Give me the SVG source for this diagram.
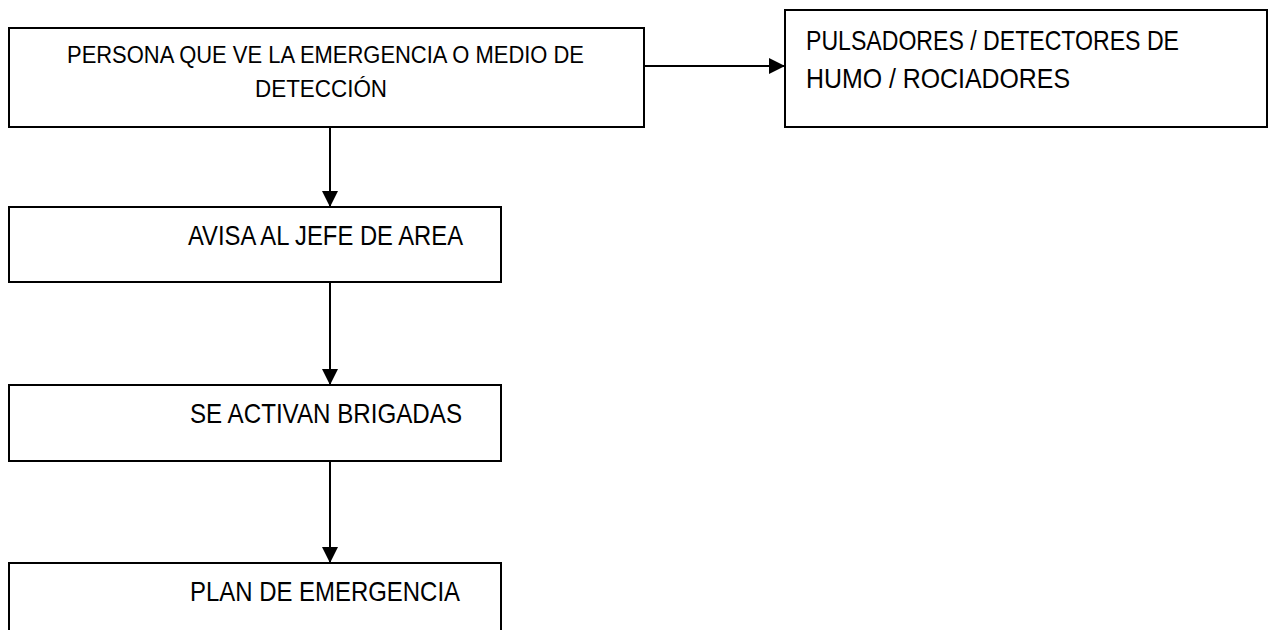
<svg xmlns="http://www.w3.org/2000/svg" width="1274" height="630" viewBox="0 0 1274 630">
<style>
.box{fill:#fff;stroke:#000;stroke-width:2}
.t{font-family:"Liberation Sans Narrow","Liberation Sans",Arial,sans-serif;fill:#000}
.s23{font-size:23px}
.s28{font-size:28px}
.c{stroke:#000;stroke-width:2;fill:none}
</style>
<defs>
<marker id="ah" markerWidth="16" markerHeight="16" refX="16" refY="8" orient="auto" markerUnits="userSpaceOnUse">
<path d="M0,0 L16,8 L0,16 Z" fill="#000"/>
</marker>
</defs>
<rect width="1274" height="630" fill="#fff"/>
<g id="n1">
<rect class="box" x="9" y="28" width="635" height="99"/>
<text class="t s23" x="67" y="63" textLength="517" lengthAdjust="spacingAndGlyphs">PERSONA QUE VE LA EMERGENCIA O MEDIO DE</text>
<text class="t s23" x="255" y="97" textLength="132" lengthAdjust="spacingAndGlyphs">DETECCIÓN</text>
</g>
<g id="n2">
<rect class="box" x="785" y="10" width="482" height="117"/>
<text class="t s28" x="806" y="50" textLength="373" lengthAdjust="spacingAndGlyphs">PULSADORES / DETECTORES DE</text>
<text class="t s28" x="806" y="88" textLength="264" lengthAdjust="spacingAndGlyphs">HUMO / ROCIADORES</text>
</g>
<g id="n3">
<rect class="box" x="9" y="207" width="492" height="75"/>
<text class="t s28" x="188" y="245" textLength="275" lengthAdjust="spacingAndGlyphs">AVISA AL JEFE DE AREA</text>
</g>
<g id="n4">
<rect class="box" x="9" y="385" width="492" height="76"/>
<text class="t s28" x="190" y="423" textLength="272" lengthAdjust="spacingAndGlyphs">SE ACTIVAN BRIGADAS</text>
</g>
<g id="n5">
<rect class="box" x="9" y="563" width="492" height="80"/>
<text class="t s28" x="190" y="601" textLength="270" lengthAdjust="spacingAndGlyphs">PLAN DE EMERGENCIA</text>
</g>
<g id="connectors">
<line class="c" x1="644" y1="66" x2="785" y2="66" marker-end="url(#ah)"/>
<line class="c" x1="330" y1="127" x2="330" y2="207" marker-end="url(#ah)"/>
<line class="c" x1="330" y1="282" x2="330" y2="385" marker-end="url(#ah)"/>
<line class="c" x1="330" y1="461" x2="330" y2="563" marker-end="url(#ah)"/>
</g>
</svg>
